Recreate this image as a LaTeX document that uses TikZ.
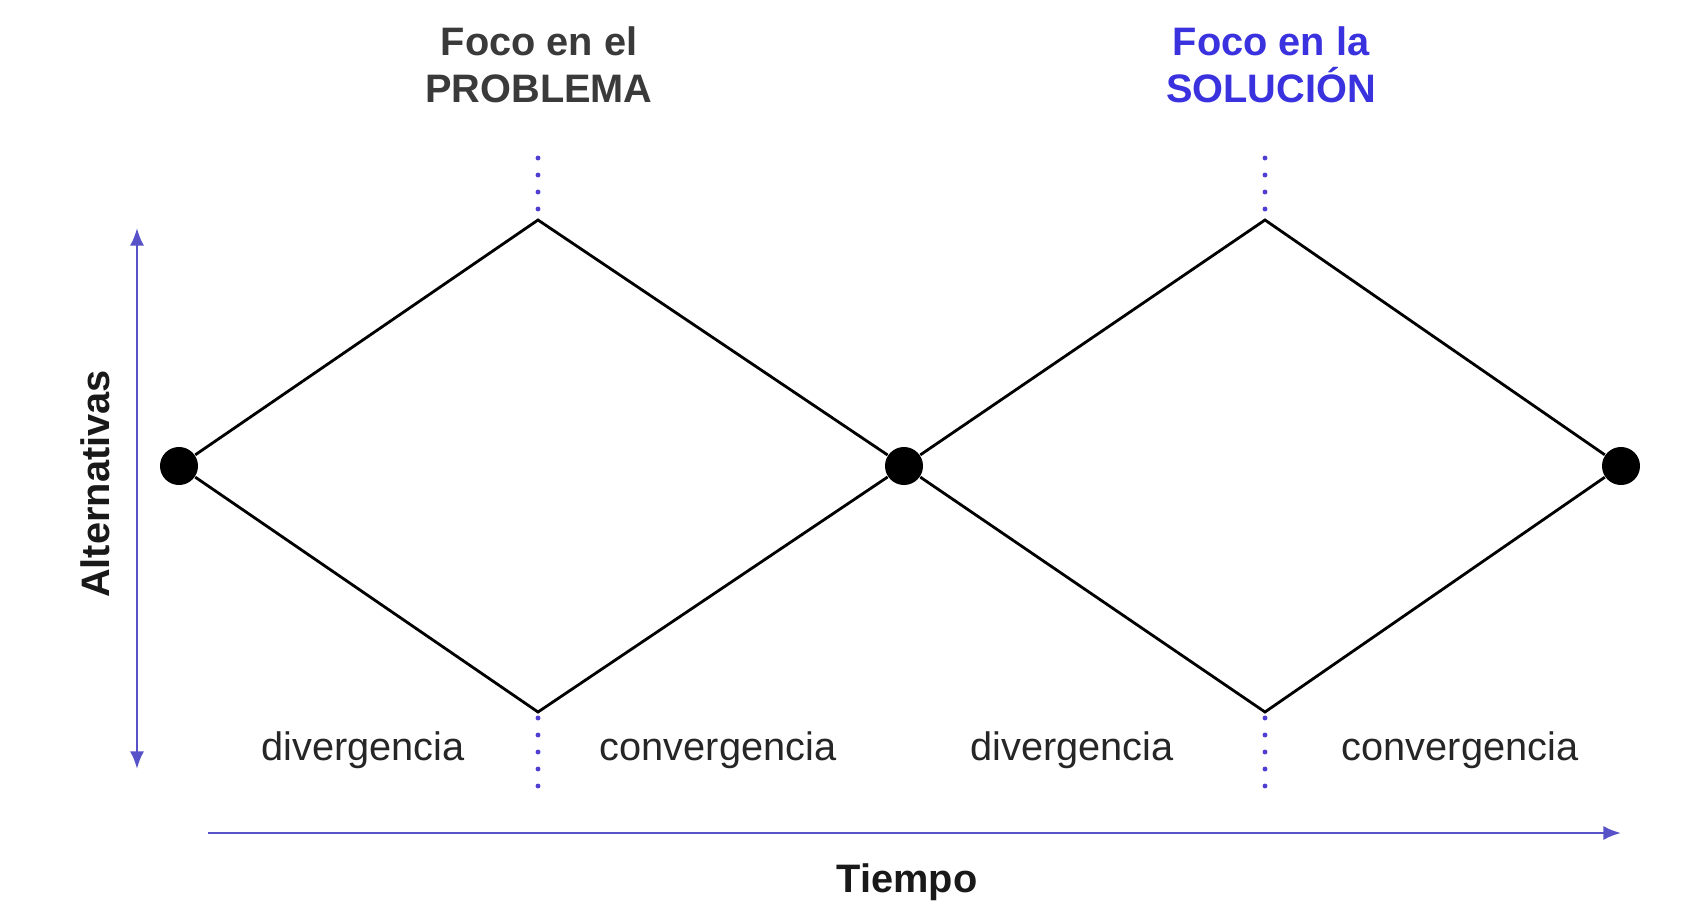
\documentclass[tikz,border=0pt]{standalone}
\usepackage{fontspec}
\setmainfont{Liberation Sans}
\usepackage{xcolor}
\definecolor{focoblue}{RGB}{58,50,222}
\definecolor{ejeblue}{RGB}{88,82,200}
\definecolor{puntoblue}{RGB}{80,62,210}
\definecolor{titlegray}{RGB}{58,58,58}
\usetikzlibrary{arrows.meta,positioning}

\begin{document}
\begin{tikzpicture}[x=0.01cm,y=-0.01cm,
  punto/.style={circle,fill=black,inner sep=0pt,minimum size=0.38cm},
  lado/.style={line width=0.8pt,black},
  eje/.style={line width=0.7pt,ejeblue},
  etiqueta/.style={font=\fontsize{11.3}{13.4}\selectfont,text=black!85},
  titulo/.style={font=\fontsize{11.3}{13.4}\selectfont\bfseries,align=center}]
  \useasboundingbox[fill=white] (0,0) rectangle (1687,906);
  % puntos
  \node[punto] (p1) at (179,466) {};
  \node[punto] (p2) at (904,466) {};
  \node[punto] (p3) at (1621,466) {};
  % vertices
  \coordinate (a1) at (538,220);
  \coordinate (b1) at (538,712);
  \coordinate (a2) at (1265,220);
  \coordinate (b2) at (1265,712);
  % rombos
  \draw[lado] (p1) -- (a1) -- (p2);
  \draw[lado] (p1) -- (b1) -- (p2);
  \draw[lado] (p2) -- (a2) -- (p3);
  \draw[lado] (p2) -- (b2) -- (p3);
  % guias punteadas
  \foreach \x in {538,1265} {
    \foreach \y in {158,175,192,209} \fill[puntoblue] (\x,\y) circle (0.7pt);
    \foreach \y in {718,735,752,769,786} \fill[puntoblue] (\x,\y) circle (0.7pt);
  }
  % ejes
  \coordinate (ya) at (137,228);
  \coordinate (yb) at (137,769);
  \coordinate (xa) at (208,833);
  \coordinate (xb) at (1621,833);
  \draw[eje,{Latex[length=5pt,width=4pt]}-{Latex[length=5pt,width=4pt]}] (ya) -- (yb);
  \draw[eje,-{Latex[length=5pt,width=4pt]}] (xa) -- (xb);
  % textos
  \node[titulo,text=titlegray] (t1) at (539,65) {Foco en el\\PROBLEMA};
  \node[titulo,text=focoblue] (t2) at (1271,65) {Foco en la\\SOLUCIÓN};
  \node[titulo,rotate=90,text=black!90] (alt) at (95,484) {Alternativas};
  \node[titulo,text=black!90] (tiempo) at (907,882) {Tiempo};
  \node[etiqueta] (d1) at (363,750) {divergencia};
  \node[etiqueta] (c1) at (718,750) {convergencia};
  \node[etiqueta] (d2) at (1072,750) {divergencia};
  \node[etiqueta] (c2) at (1460,750) {convergencia};
\end{tikzpicture}
\end{document}
